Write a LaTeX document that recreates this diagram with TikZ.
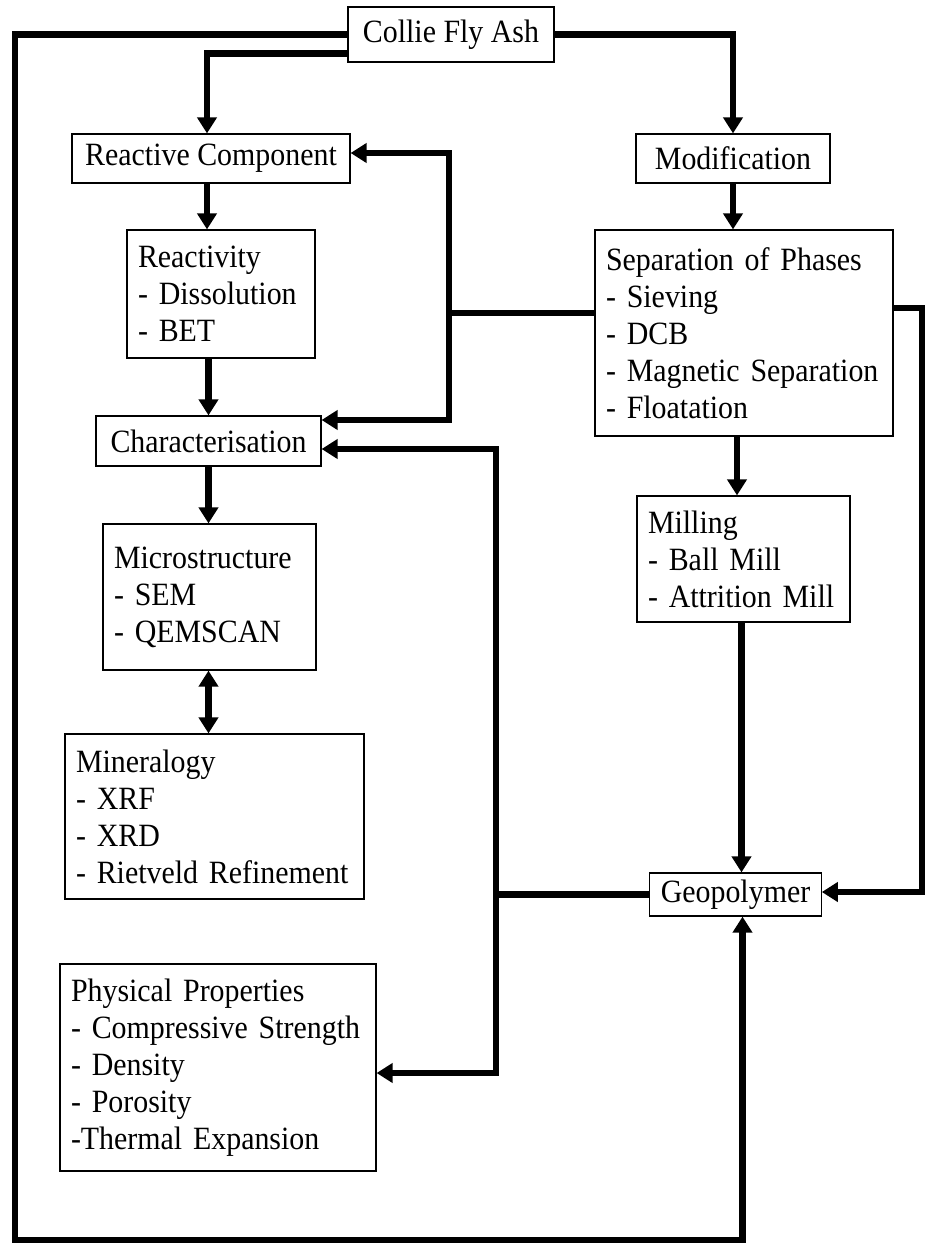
\documentclass[tikz,border=0pt]{standalone}
\usepackage{fontspec}
\setmainfont[FakeStretch=0.92]{Liberation Serif}
\usetikzlibrary{arrows.meta}
\begin{document}
\begin{tikzpicture}[x=1pt, y=-1pt,
    box/.style={draw, line width=1.2pt, inner xsep=11pt, inner ysep=0pt, align=left,
        font=\fontsize{32.5}{37}\selectfont},
    tag/.style={box, align=center},
    link/.style={line width=6.5pt},
    flow/.style={line width=6.5pt, -{Triangle[length=16pt, width=19pt]}},
    both/.style={line width=6.5pt, {Triangle[length=16pt, width=19pt]}-{Triangle[length=16pt, width=19pt]}}]
    \useasboundingbox (0,0) rectangle (926,1245);
    % left column
    \node[tag, minimum width=206pt, minimum height=55pt] (ash) at (451,34.5) {Collie Fly Ash};
    \node[tag, minimum width=278pt, minimum height=49pt] (reactive) at (211,158.5) {Reactive Component};
    \node[box, text width=166pt, minimum height=128pt] (reactivity) at (221,294) {Reactivity\\- Dissolution\\- BET};
    \node[tag, minimum width=225pt, minimum height=50pt] (charac) at (208.5,441) {Characterisation};
    \node[box, text width=191pt, minimum height=146pt] (micro) at (209.5,597) {Microstructure\\- SEM\\- QEMSCAN};
    \node[box, text width=277pt, minimum height=165pt] (mineral) at (214.5,816.5) {Mineralogy\\- XRF\\- XRD\\- Rietveld Refinement};
    \node[box, text width=294pt, minimum height=207pt] (phys) at (218,1067.5) {Physical Properties\\- Compressive Strength\\- Density\\- Porosity\\-Thermal Expansion};
    % right column
    \node[tag, minimum width=194pt, minimum height=49pt] (modif) at (733,158.5) {Modification};
    \node[box, text width=276pt, minimum height=206pt] (separation) at (744,333) {Separation of Phases\\- Sieving\\- DCB\\- Magnetic Separation\\- Floatation};
    \node[box, text width=191pt, minimum height=126pt] (milling) at (743.5,559) {Milling\\- Ball Mill\\- Attrition Mill};
    \node[tag, minimum width=171pt, minimum height=43pt] (geo) at (735.5,894.5) {Geopolymer};
    % corners and junctions
    \coordinate (cornerTL) at (15,34.5);
    \coordinate (cornerBL) at (15,1240);
    \coordinate (cornerTR) at (922,308);
    \coordinate (jsep) at (449,313);
    \coordinate (jgeo) at (496,894.5);
    % from the fly ash
    \draw[flow] (ash.west) -- (cornerTL) -- (cornerBL) -| ([xshift=7pt]geo.south);
    \draw[flow] (ash.east) -| (modif.north);
    \draw[flow] ([yshift=-19pt]ash.west) -| ([xshift=-4pt]reactive.north);
    % characterisation chain
    \draw[flow] ([xshift=-4pt]reactive.south) -- ([xshift=-4pt]reactive.south |- reactivity.north);
    \draw[flow] (reactivity.south -| charac.north) -- (charac.north);
    \draw[flow] (charac.south) -- (charac.south |- micro.north);
    \draw[both] (micro.south -| charac.south) -- (mineral.north -| charac.south);
    % modification chain
    \draw[flow] (modif.south) -- (modif.south |- separation.north);
    \draw[flow] ([xshift=-7pt]separation.south) -- ([xshift=-7pt]separation.south |- milling.north);
    \draw[flow] ([xshift=-2pt]milling.south) -- ([xshift=-2pt]milling.south |- geo.north);
    \draw[flow] ([yshift=25pt]separation.east) -- (cornerTR) |- ([yshift=2.5pt]geo.east);
    % feedback from separation
    \draw[link] ([yshift=20pt]separation.west) -- (jsep);
    \draw[flow] (jsep) |- ([yshift=5.5pt]reactive.east);
    \draw[flow] (jsep) |- ([yshift=21pt]charac.east);
    % feedback from geopolymer
    \draw[link] (geo.west) -- (jgeo);
    \draw[flow] (jgeo) |- ([yshift=-8pt]charac.east);
    \draw[flow] (jgeo) |- ([yshift=-5.5pt]phys.east);
\end{tikzpicture}
\end{document}
